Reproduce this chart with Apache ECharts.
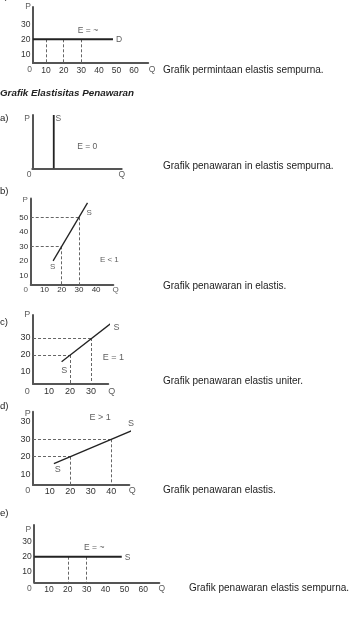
<!DOCTYPE html>
<html>
<head>
<meta charset="utf-8">
<script src="https://cdn.jsdelivr.net/npm/echarts@6/dist/echarts.min.js"></script>
<style>
  html, body { margin: 0; padding: 0; background: #fff; }
  #chart { width: 352px; height: 626px; }
</style>
</head>
<body>
<div id="chart"></div>
<script>
// --- data ---
// 0: permintaan elastis sempurna
const demandXTicks = [10, 20, 30, 40, 50, 60];
const demandYTicks = [10, 20, 30];
const demandCurve = [[2.5, 20], [48, 20]];
const demandGuides = [[10, 20], [20, 20], [30, 20]];
const demandNotes = [
  { value: [-0.3, 41.5], name: 'P' },
  { value: [0.6, -0.5], name: '0' },
  { value: [70.2, -0.5], name: 'Q' },
  { value: [51.4, 20], name: 'D' },
  { value: [33.8, 25.5], name: 'E = ~' }
];

// a: in elastis sempurna
const aCurve = [[24, 0], [24, 100]];
const aNotes = [
  { value: [-5.9, 93.8], name: 'P' },
  { value: [29.1, 93.8], name: 'S' },
  { value: [61.5, 40.5], name: 'E = 0' },
  { value: [-3.7, -12.6], name: '0' },
  { value: [100, -12.6], name: 'Q' }
];

// b: in elastis
const bXTicks = [10, 20, 30, 40];
const bYTicks = [10, 20, 30, 40, 50];
const bCurve = [[15, 20], [35, 60]];
const bGuides = [[20, 30], [30, 50]];
const bNotes = [
  { value: [-1.3, 61.9], name: 'P' },
  { value: [35.9, 53.2], name: 'S' },
  { value: [14.8, 15.9], name: 'S' },
  { value: [47.7, 21], name: 'E < 1' },
  { value: [-0.9, -0.1], name: '0' },
  { value: [51.4, -0.1], name: 'Q' }
];

// c: elastis uniter
const cXTicks = [10, 20, 30];
const cYTicks = [10, 20, 30];
const cCurve = [[16, 16], [42, 41]];
const cGuides = [[20, 20], [30, 30]];
const cNotes = [
  { value: [-0.3, 44.1], name: 'P' },
  { value: [42.2, 36.3], name: 'S' },
  { value: [17.3, 10.6], name: 'S' },
  { value: [40.6, 18.6], name: 'E = 1' },
  { value: [-0.3, -1.2], name: '0' },
  { value: [39.9, -1.2], name: 'Q' }
];

// d: elastis
const dXTicks = [10, 20, 30, 40];
const dYTicks = [10, 20, 30, 40];
const dYTickText = ['10', '20', '30', '30'];
const dCurve = [[12, 16], [52, 36]];
const dGuides = [[20, 20], [40, 30]];
const dNotes = [
  { value: [-0.8, 44.9], name: 'P' },
  { value: [34.5, 42.4], name: 'E > 1' },
  { value: [49.6, 38.8], name: 'S' },
  { value: [13.9, 12.8], name: 'S' },
  { value: [-0.8, 0.5], name: '0' },
  { value: [50.2, 0.5], name: 'Q' }
];

// e: penawaran elastis sempurna
const eXTicks = [10, 20, 30, 40, 50, 60];
const eYTicks = [10, 20, 30];
const eCurve = [[2.2, 20], [48.6, 20]];
const eGuides = [[20, 20], [30, 20]];
const eNotes = [
  { value: [-1, 37.8], name: 'P' },
  { value: [34, 26], name: 'E = ~' },
  { value: [51.7, 19.6], name: 'S' },
  { value: [-0.4, -1.5], name: '0' },
  { value: [69.8, -1.5], name: 'Q' }
];

const captions = [
  { text: 'Grafik permintaan elastis sempurna.', x: 163, y: 70 },
  { text: 'Grafik penawaran in elastis sempurna.', x: 163, y: 166.7 },
  { text: 'Grafik penawaran in elastis.', x: 163, y: 286 },
  { text: 'Grafik penawaran elastis uniter.', x: 163, y: 381.7 },
  { text: 'Grafik penawaran elastis.', x: 163, y: 490 },
  { text: 'Grafik penawaran elastis sempurna.', x: 189, y: 588 }
];
const sectionLabels = [
  { text: 'c)', y: -4 },
  { text: 'a)', y: 118.3 },
  { text: 'b)', y: 191 },
  { text: 'c)', y: 322.3 },
  { text: 'd)', y: 406.7 },
  { text: 'e)', y: 513.3 }
];

// --- layout of each little plot (pixel origin + px per unit) ---
const FONT = '"Liberation Sans", Arial, sans-serif';
const plots = [
  { ox: 28.5, sx: 1.76, oy: 69.3, sy: 1.5, xmin: 2.5, xmax: 68, ymin: 4.2, ymax: 41.5, font: 8.5, xMargin: 3,
    xTicks: demandXTicks, yTicks: demandYTicks, curve: demandCurve, guides: demandGuides, hGuides: false, notes: demandNotes, curveW: 2 },
  { ox: 32.3, sx: 0.894, oy: 168.3, sy: 0.533, xmin: 0, xmax: 100, ymin: 0, ymax: 100, font: 8.5, xMargin: 3,
    xTicks: [], yTicks: [], curve: aCurve, guides: [], hGuides: false, notes: aNotes, curveW: 1.8 },
  { ox: 27.3, sx: 1.72, oy: 289.8, sy: 1.45, xmin: 2, xmax: 50, ymin: 3.5, ymax: 63, font: 8, xMargin: 1.5,
    xTicks: bXTicks, yTicks: bYTicks, curve: bCurve, guides: bGuides, hGuides: true, notes: bNotes, curveW: 1.3 },
  { ox: 28, sx: 2.1, oy: 389, sy: 1.7, xmin: 2.4, xmax: 38.2, ymin: 3, ymax: 43.5, font: 9, xMargin: 3,
    xTicks: cXTicks, yTicks: cYTicks, curve: cCurve, guides: cGuides, hGuides: true, notes: cNotes, curveW: 1.3 },
  { ox: 29.3, sx: 2.05, oy: 491.5, sy: 1.74, xmin: 1.8, xmax: 48.8, ymin: 3.7, ymax: 45.9, font: 9, xMargin: 1.7,
    xTicks: dXTicks, yTicks: dYTicks, yText: dYTickText, curve: dCurve, guides: dGuides, hGuides: true, notes: dNotes, curveW: 1.3 },
  { ox: 30.1, sx: 1.886, oy: 586.7, sy: 1.5, xmin: 2.2, xmax: 68.5, ymin: 2.9, ymax: 41.1, font: 8.5, xMargin: 2.7,
    xTicks: eXTicks, yTicks: eYTicks, curve: eCurve, guides: eGuides, hGuides: false, notes: eNotes, curveW: 2 }
];

const grid = [], xAxis = [], yAxis = [], series = [];
const axisColor = '#555';
const textColor = '#333';

plots.forEach((p, i) => {
  grid.push({
    left: p.ox + p.xmin * p.sx,
    top: p.oy - p.ymax * p.sy,
    width: (p.xmax - p.xmin) * p.sx,
    height: (p.ymax - p.ymin) * p.sy,
    containLabel: false
  });
  xAxis.push({
    gridIndex: i, type: 'value', min: p.xmin, max: p.xmax,
    axisLine: { show: true, onZero: false, lineStyle: { color: axisColor, width: 2 } },
    axisTick: { show: false },
    splitLine: { show: false },
    axisLabel: {
      show: p.xTicks.length > 0, customValues: p.xTicks, margin: p.xMargin,
      fontSize: p.font, fontFamily: FONT, color: textColor
    }
  });
  yAxis.push({
    gridIndex: i, type: 'value', min: p.ymin, max: p.ymax,
    axisLine: { show: true, onZero: false, lineStyle: { color: axisColor, width: 2 } },
    axisTick: { show: false },
    splitLine: { show: false },
    axisLabel: {
      show: p.yTicks.length > 0, customValues: p.yTicks, margin: 2.5,
      fontSize: p.font, fontFamily: FONT, color: textColor,
      formatter: v => p.yText ? p.yText[p.yTicks.indexOf(v)] : String(v)
    }
  });

  // dashed guide lines down (and across) to the axes
  const segs = [];
  p.guides.forEach(([q, v]) => {
    segs.push({ coords: [[q, v], [q, p.ymin]] });
    if (p.hGuides) segs.push({ coords: [[p.xmin, v], [q, v]] });
  });
  if (segs.length) {
    series.push({
      type: 'lines', coordinateSystem: 'cartesian2d', xAxisIndex: i, yAxisIndex: i,
      data: segs, silent: true, z: 2,
      lineStyle: { color: '#666', width: 1, type: [3, 2], opacity: 1, curveness: 0 }
    });
  }

  series.push({
    type: 'line', xAxisIndex: i, yAxisIndex: i, data: p.curve,
    symbol: 'none', clip: false, silent: true, z: 3,
    lineStyle: { color: '#222', width: p.curveW }
  });

  series.push({
    type: 'scatter', xAxisIndex: i, yAxisIndex: i, data: p.notes,
    symbolSize: 1, clip: false, silent: true, z: 4,
    itemStyle: { color: 'transparent' },
    label: {
      show: true, position: 'inside', formatter: '{b}',
      fontSize: p.font, fontFamily: FONT, color: textColor
    }
  });
});

const graphic = [
  {
    type: 'text', left: 0, top: 94.3 - 6,
    style: { text: 'Grafik Elastisitas Penawaran', font: 'italic bold 9.8px ' + FONT, fill: '#222' }
  }
];
captions.forEach(c => graphic.push({
  type: 'text', x: c.x, y: c.y,
  style: { text: c.text, font: '10px ' + FONT, fill: '#222', verticalAlign: 'middle' }
}));
sectionLabels.forEach(s => graphic.push({
  type: 'text', x: 0, y: s.y,
  style: { text: s.text, font: '9.6px ' + FONT, fill: '#222', verticalAlign: 'middle' }
}));

const chart = echarts.init(document.getElementById('chart'), null, { renderer: 'canvas' });
chart.setOption({
  animation: false,
  backgroundColor: '#fff',
  grid, xAxis, yAxis, series, graphic
});
</script>
</body>
</html>
